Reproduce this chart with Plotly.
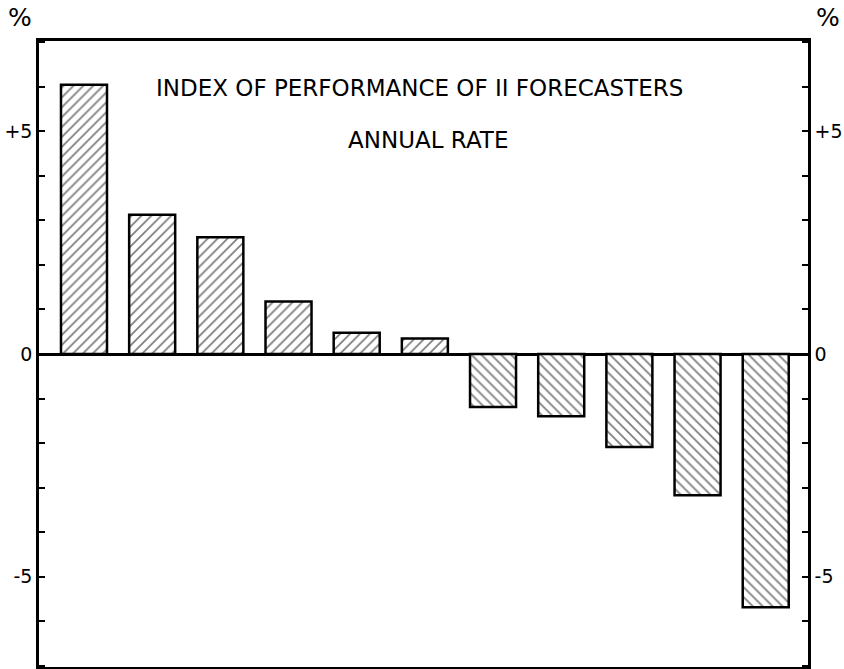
import plotly.graph_objects as go

forecasters = ["1", "2", "3", "4", "5", "6", "7", "8", "9", "10", "11"]
index_values = [6.05, 3.13, 2.62, 1.18, 0.48, 0.35, -1.19, -1.40, -2.09, -3.17, -5.69]
tick_values = [-5, 0, 5]
tick_labels = ["-5", "0", "+5"]
title_line1 = "INDEX OF PERFORMANCE OF II FORECASTERS"
title_line2 = "ANNUAL RATE"

FONT = "DejaVu Sans"

shapes = ["/" if v >= 0 else "\\" for v in index_values]

fig = go.Figure()
fig.add_trace(go.Bar(
    x=forecasters,
    y=index_values,
    width=0.675,
    marker=dict(
        color="white",
        line=dict(color="black", width=2.5),
        pattern=dict(shape=shapes, fgcolor="black", bgcolor="white",
                     size=7, solidity=0.25, fillmode="overlay"),
    ),
    showlegend=False,
    hoverinfo="skip",
))
# register the right-hand axis with the same data (draws nothing)
fig.add_trace(go.Scatter(
    x=forecasters, y=index_values, yaxis="y2", mode="none",
    showlegend=False, hoverinfo="skip",
))

yaxis_common = dict(
    range=[-7.03, 7.03],
    tickvals=tick_values,
    ticktext=tick_labels,
    ticks="inside",
    ticklen=6,
    tickwidth=2,
    tickcolor="black",
    minor=dict(dtick=1, ticks="inside", ticklen=6, tickwidth=2, tickcolor="black", showgrid=False),
    showgrid=False,
    showline=True,
    linecolor="black",
    linewidth=2.5,
    tickfont=dict(family=FONT, size=19, color="black"),
    automargin=False,
    fixedrange=True,
)

fig.update_layout(
    width=844,
    height=669,
    margin=dict(l=39, r=36, t=41, b=2, autoexpand=False),
    paper_bgcolor="white",
    plot_bgcolor="white",
    xaxis=dict(
        range=[-0.66, 10.62],
        showticklabels=False,
        ticks="",
        showgrid=False,
        showline=True,
        mirror=True,
        linecolor="black",
        linewidth=2.5,
        automargin=False,
        fixedrange=True,
    ),
    yaxis=dict(
        **yaxis_common,
        side="left",
        zeroline=True,
        zerolinecolor="black",
        zerolinewidth=2.5,
    ),
    yaxis2=dict(
        **yaxis_common,
        side="right",
        overlaying="y",
        zeroline=False,
    ),
    annotations=[
        dict(text=title_line1, xref="paper", yref="paper", x=0.495, y=0.925,
             showarrow=False, font=dict(family=FONT, size=23, color="black"),
             xanchor="center", yanchor="middle"),
        dict(text=title_line2, xref="paper", yref="paper", x=0.506, y=0.842,
             showarrow=False, font=dict(family=FONT, size=23, color="black"),
             xanchor="center", yanchor="middle"),
        dict(text="%", xref="paper", yref="paper", x=-0.025, y=1.037,
             showarrow=False, font=dict(family=FONT, size=25, color="black"),
             xanchor="center", yanchor="middle"),
        dict(text="%", xref="paper", yref="paper", x=1.026, y=1.037,
             showarrow=False, font=dict(family=FONT, size=25, color="black"),
             xanchor="center", yanchor="middle"),
    ],
)

fig.write_html(
    "out.html",
    config={"displayModeBar": False},
    post_script="document.body.style.margin='0';document.body.style.overflow='hidden';",
)
